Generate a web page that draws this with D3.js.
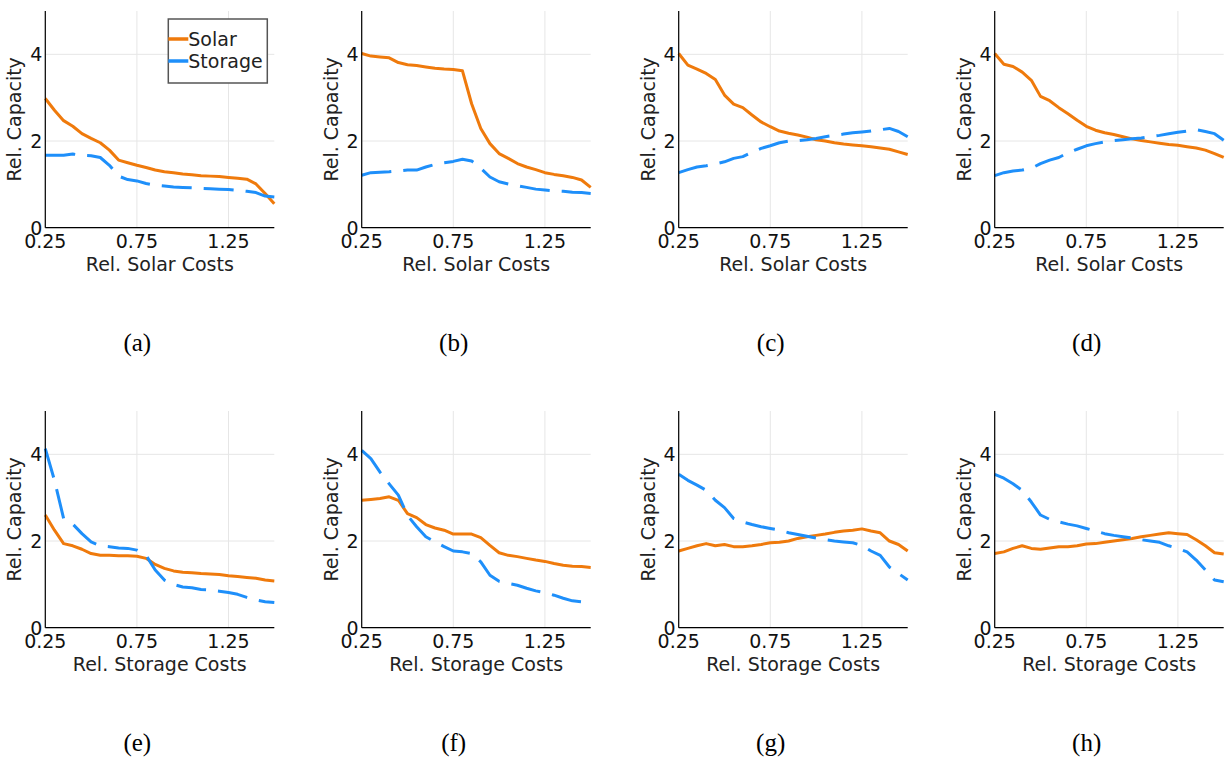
<!DOCTYPE html>
<html>
<head>
<meta charset="utf-8">
<script src="https://cdn.jsdelivr.net/npm/d3@7"></script>
<style>
  html, body { margin: 0; padding: 0; background: #fff; }
  svg { display: block; }
</style>
</head>
<body>
<div id="chart"></div>
<script>
// relative cost grid (x axis of every panel)
const costs = [0.25, 0.30, 0.35, 0.40, 0.45, 0.50, 0.55, 0.60, 0.65, 0.70, 0.75, 0.80, 0.85,
  0.90, 0.95, 1.00, 1.05, 1.10, 1.15, 1.20, 1.25, 1.30, 1.35, 1.40, 1.45, 1.50];

const xTicks = [0.25, 0.75, 1.25];
const xTickLabels = ["0.25", "0.75", "1.25"];
const yTicks = [0, 2, 4];
const yTickLabels = ["0", "2", "4"];
const seriesNames = ["Solar", "Storage"];
const captions = ["(a)", "(b)", "(c)", "(d)", "(e)", "(f)", "(g)", "(h)"];
const xTitles = ["Rel. Solar Costs", "Rel. Storage Costs"];

const solarA = [2.98, 2.71, 2.47, 2.34, 2.17, 2.06, 1.96, 1.79, 1.56, 1.50, 1.44, 1.39, 1.33,
  1.29, 1.27, 1.24, 1.22, 1.20, 1.19, 1.18, 1.16, 1.14, 1.12, 1.01, 0.79, 0.55];
const storageA = [1.67, 1.67, 1.67, 1.70, 1.67, 1.66, 1.62, 1.44, 1.19, 1.11, 1.08, 1.02, 0.98,
  0.96, 0.94, 0.93, 0.92, 0.91, 0.90, 0.89, 0.88, 0.86, 0.84, 0.81, 0.73, 0.71];

const solarB = [4.02, 3.96, 3.94, 3.92, 3.81, 3.76, 3.74, 3.71, 3.68, 3.66, 3.65, 3.62, 2.86,
  2.29, 1.94, 1.71, 1.60, 1.48, 1.40, 1.34, 1.27, 1.23, 1.20, 1.16, 1.10, 0.93];
const storageB = [1.21, 1.27, 1.28, 1.29, 1.31, 1.33, 1.33, 1.40, 1.46, 1.50, 1.53, 1.58, 1.54,
  1.37, 1.17, 1.06, 1.01, 0.97, 0.93, 0.89, 0.87, 0.85, 0.84, 0.82, 0.81, 0.79];

const solarC = [4.02, 3.75, 3.66, 3.56, 3.42, 3.06, 2.85, 2.77, 2.60, 2.44, 2.33, 2.23, 2.18,
  2.14, 2.09, 2.03, 2.00, 1.96, 1.93, 1.91, 1.89, 1.87, 1.84, 1.81, 1.75, 1.69];
const storageC = [1.27, 1.34, 1.40, 1.43, 1.47, 1.52, 1.60, 1.64, 1.74, 1.83, 1.89, 1.96, 2.00,
  2.01, 2.03, 2.06, 2.10, 2.13, 2.16, 2.19, 2.21, 2.23, 2.26, 2.29, 2.22, 2.10];

const solarD = [4.02, 3.77, 3.72, 3.59, 3.40, 3.03, 2.93, 2.77, 2.63, 2.48, 2.34, 2.25, 2.19,
  2.15, 2.10, 2.05, 2.01, 1.98, 1.95, 1.92, 1.90, 1.87, 1.84, 1.79, 1.71, 1.62];
const storageD = [1.20, 1.27, 1.31, 1.33, 1.37, 1.48, 1.56, 1.62, 1.73, 1.81, 1.89, 1.94, 1.98,
  2.01, 2.03, 2.05, 2.07, 2.10, 2.13, 2.17, 2.20, 2.23, 2.26, 2.22, 2.17, 2.02];

const solarE = [2.60, 2.25, 1.94, 1.89, 1.81, 1.71, 1.67, 1.67, 1.66, 1.66, 1.65, 1.60, 1.46,
  1.37, 1.31, 1.28, 1.27, 1.25, 1.24, 1.23, 1.20, 1.18, 1.16, 1.14, 1.10, 1.08];
const storageE = [4.13, 3.40, 2.52, 2.39, 2.17, 1.98, 1.89, 1.87, 1.84, 1.83, 1.79, 1.67, 1.33,
  1.10, 1.00, 0.94, 0.92, 0.88, 0.87, 0.84, 0.81, 0.77, 0.70, 0.64, 0.60, 0.58];

const solarF = [2.94, 2.96, 2.98, 3.02, 2.94, 2.63, 2.54, 2.38, 2.30, 2.25, 2.16, 2.16, 2.16,
  2.08, 1.90, 1.73, 1.67, 1.64, 1.60, 1.56, 1.53, 1.48, 1.44, 1.42, 1.41, 1.39];
const storageF = [4.09, 3.90, 3.59, 3.32, 3.06, 2.59, 2.33, 2.10, 1.98, 1.87, 1.77, 1.75, 1.71,
  1.52, 1.21, 1.07, 1.02, 0.98, 0.91, 0.85, 0.81, 0.75, 0.68, 0.62, 0.60, 0.56];

const solarG = [1.77, 1.83, 1.89, 1.94, 1.89, 1.92, 1.87, 1.87, 1.89, 1.92, 1.96, 1.97, 2.00,
  2.06, 2.10, 2.13, 2.16, 2.20, 2.23, 2.25, 2.28, 2.23, 2.19, 2.00, 1.92, 1.77];
const storageG = [3.54, 3.40, 3.29, 3.17, 2.94, 2.77, 2.52, 2.44, 2.38, 2.33, 2.29, 2.25, 2.19,
  2.15, 2.11, 2.07, 2.03, 2.00, 1.98, 1.96, 1.90, 1.77, 1.67, 1.40, 1.25, 1.10];

const solarH = [1.71, 1.75, 1.83, 1.89, 1.83, 1.81, 1.84, 1.87, 1.87, 1.89, 1.93, 1.94, 1.97,
  2.00, 2.03, 2.06, 2.10, 2.13, 2.16, 2.19, 2.17, 2.15, 2.03, 1.89, 1.73, 1.70];
const storageH = [3.54, 3.45, 3.32, 3.17, 2.90, 2.60, 2.50, 2.44, 2.39, 2.35, 2.29, 2.23, 2.17,
  2.13, 2.10, 2.07, 2.03, 2.00, 1.97, 1.89, 1.83, 1.75, 1.56, 1.33, 1.10, 1.06];

const panelSolar = [solarA, solarB, solarC, solarD, solarE, solarF, solarG, solarH];
const panelStorage = [storageA, storageB, storageC, storageD, storageE, storageF, storageG, storageH];

const width = 1225, height = 759;
const colors = { Solar: "#ef7a0c", Storage: "#1e8ffa" };
const font = "DejaVu Sans";

const svg = d3.select("#chart").append("svg")
  .attr("width", width).attr("height", height)
  .style("background", "#fff");

const colX = [45.3, 361.7, 678.7, 994.7],
  rowY = [11, 411],
  pw = 229,
  ph = 216.7;

const x = d3.scaleLinear().domain([0.25, 1.5]).range([0, pw]);
const y = d3.scaleLinear().domain([0, 5]).range([ph, 0]);
const line = d3.line().x((d, i) => x(costs[i])).y(d => y(d));

captions.forEach((cap, p) => {
  const row = Math.floor(p / 4), col = p % 4;
  const g = svg.append("g").attr("transform", `translate(${colX[col]},${rowY[row]})`);

  // grid
  g.append("g").selectAll("line").data(xTicks).join("line")
    .attr("x1", d => x(d)).attr("x2", d => x(d)).attr("y1", 0).attr("y2", ph)
    .style("stroke", "#e6e6e6").style("stroke-width", 1);
  g.append("g").selectAll("line").data(yTicks).join("line")
    .attr("x1", 0).attr("x2", pw).attr("y1", d => y(d)).attr("y2", d => y(d))
    .style("stroke", "#e6e6e6").style("stroke-width", 1);

  // series
  g.append("path").datum(panelSolar[p]).attr("d", line)
    .style("fill", "none").style("stroke", colors.Solar).style("stroke-width", 3)
    .style("stroke-linejoin", "round");
  g.append("path").datum(panelStorage[p]).attr("d", line)
    .style("fill", "none").style("stroke", colors.Storage).style("stroke-width", 3)
    .style("stroke-linejoin", "round").style("stroke-dasharray", "30,12");

  // axes
  g.append("line").attr("x1", 0).attr("x2", 0).attr("y1", 0).attr("y2", ph)
    .style("stroke", "#000").style("stroke-width", 1.2);
  g.append("line").attr("x1", 0).attr("x2", pw).attr("y1", ph).attr("y2", ph)
    .style("stroke", "#000").style("stroke-width", 1.2);

  g.append("g").selectAll("text").data(xTicks).join("text")
    .attr("x", d => x(d)).attr("y", ph + 20)
    .attr("text-anchor", "middle")
    .style("font-family", font).style("font-size", "19px").style("fill", "#111")
    .text((d, i) => xTickLabels[i]);
  g.append("g").selectAll("text").data(yTicks).join("text")
    .attr("x", -3).attr("y", d => y(d)).attr("dy", "0.36em")
    .attr("text-anchor", "end")
    .style("font-family", font).style("font-size", "19px").style("fill", "#111")
    .text((d, i) => yTickLabels[i]);

  g.append("text").attr("x", pw / 2).attr("y", ph + 43)
    .attr("text-anchor", "middle")
    .style("font-family", font).style("font-size", "19px").style("fill", "#222")
    .text(xTitles[row]);
  g.append("text")
    .attr("transform", `translate(-24,${ph / 2}) rotate(-90)`)
    .attr("text-anchor", "middle")
    .style("font-family", font).style("font-size", "19px").style("fill", "#222")
    .text("Rel. Capacity");

  // sub caption
  g.append("text").attr("x", 92).attr("y", ph + 123)
    .attr("text-anchor", "middle")
    .style("font-family", "Liberation Serif").style("font-size", "25px").style("fill", "#000")
    .text(cap);

  // legend only in first panel
  if (p === 0) {
    const lg = g.append("g").attr("transform", "translate(123,8)");
    lg.append("rect").attr("width", 99).attr("height", 64)
      .style("fill", "#fff").style("stroke", "#555").style("stroke-width", 1.5);
    seriesNames.forEach((name, i) => {
      const ly = 20 + i * 22;
      lg.append("line").attr("x1", 0).attr("x2", 20).attr("y1", ly).attr("y2", ly)
        .style("stroke", colors[name]).style("stroke-width", 3.5);
      lg.append("text").attr("x", 20).attr("y", ly).attr("dy", "0.36em")
        .style("font-family", font).style("font-size", "19px").style("fill", "#222")
        .text(name);
    });
  }
});
</script>
</body>
</html>
